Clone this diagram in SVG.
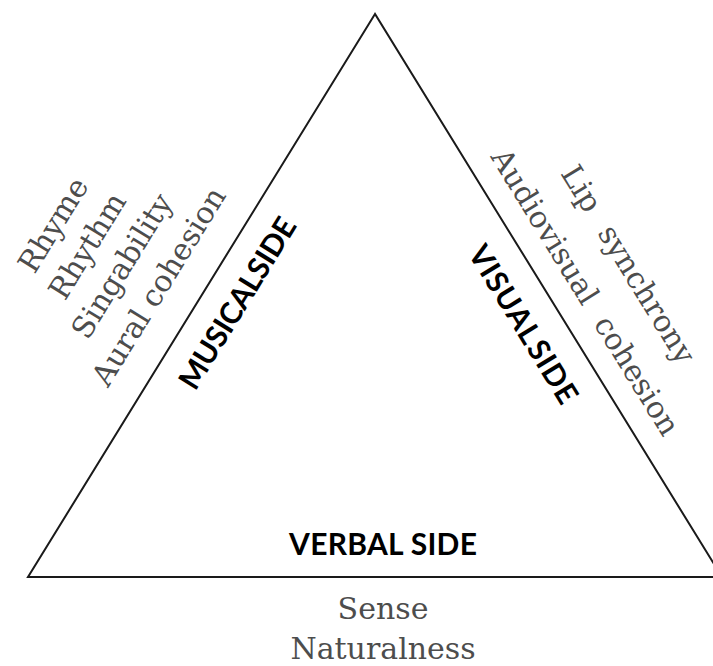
<svg xmlns="http://www.w3.org/2000/svg" width="713" height="666" viewBox="0 0 713 666">
<style>
.edge{fill:none;stroke:#1a1a1a;stroke-width:2;stroke-linejoin:miter}
.side{font-family:Lato,"Liberation Sans",Arial,sans-serif;font-weight:bold;font-size:30px;fill:#000;text-anchor:middle}
.crit{font-family:"DejaVu Serif","Liberation Serif",serif;font-size:30px;fill:#4d4d4d;text-anchor:middle}
</style>
<rect width="713" height="666" fill="#fff"/>
<g id="connectors">
<polygon class="edge" points="375,14 28,577 722,577"/>
</g>
<g id="musical" transform="translate(28,577) rotate(-58.35)">
<text class="side" x="343" y="45" textLength="195" word-spacing="-6">MUSICAL SIDE</text>
<text class="crit" x="313" y="-153">Rhyme</text>
<text class="crit" x="313" y="-113">Rhythm</text>
<text class="crit" x="314" y="-73">Singability</text>
<text class="crit" x="316" y="-31">Aural cohesion</text>
</g>
<g id="visual" transform="translate(375,14) rotate(58.35)">
<text class="side" x="342" y="47" textLength="180" word-spacing="-6">VISUAL SIDE</text>
<text class="crit" x="346" y="-74" word-spacing="12">Lip synchrony</text>
<text class="crit" x="347" y="-23" word-spacing="10">Audiovisual cohesion</text>
</g>
<g id="verbal">
<text class="side" x="383" y="555" textLength="188">VERBAL SIDE</text>
<text class="crit" x="383" y="619">Sense</text>
<text class="crit" x="383" y="659">Naturalness</text>
</g>
</svg>
